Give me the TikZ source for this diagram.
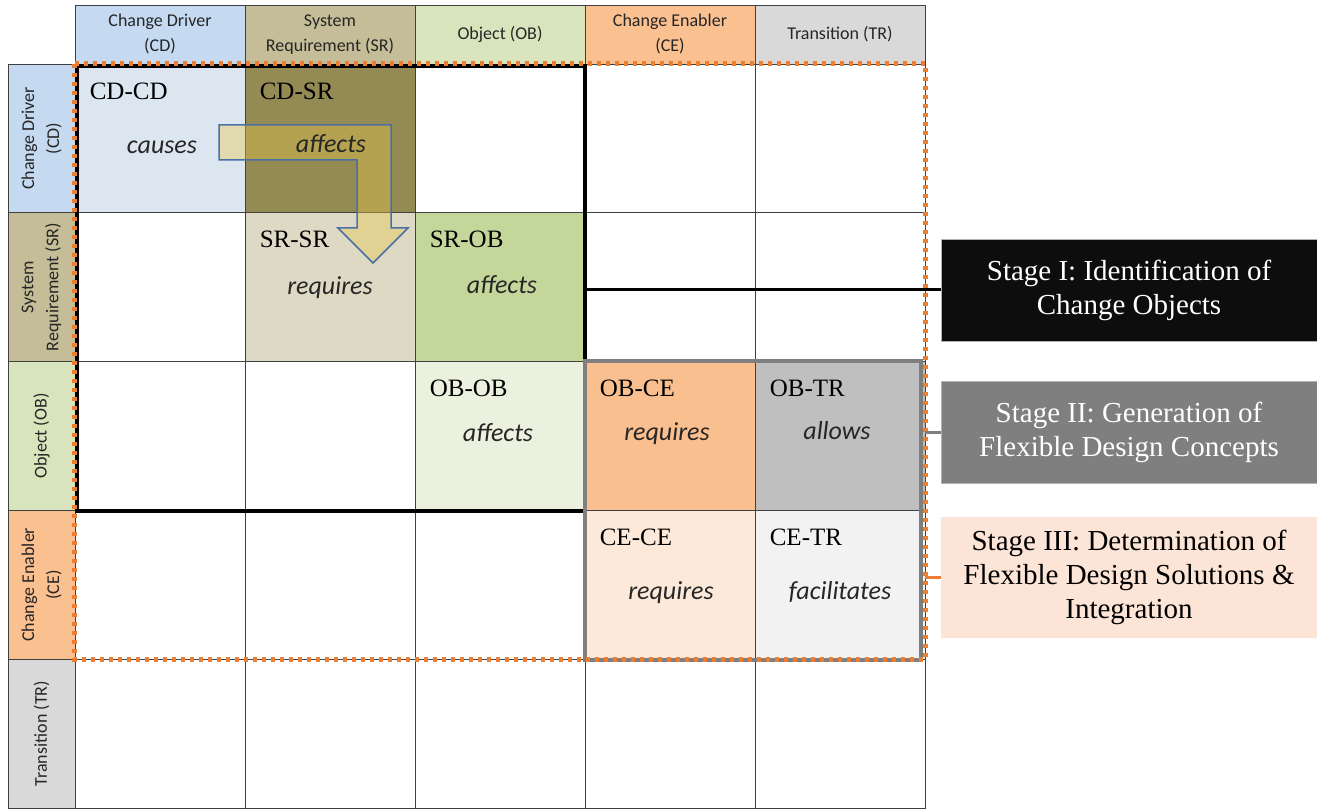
\documentclass[tikz,border=0pt]{standalone}
\usepackage{fontspec}
\setmainfont{Liberation Serif}
\newfontfamily\calibri{Carlito}
\definecolor{hdcd}{HTML}{C5D9F1}
\definecolor{hdsr}{HTML}{C4BD97}
\definecolor{hdob}{HTML}{D8E4BC}
\definecolor{hdce}{HTML}{FAC090}
\definecolor{hdtr}{HTML}{D9D9D9}
\definecolor{cdcdfill}{HTML}{DCE6F1}
\definecolor{cdsrfill}{HTML}{948A54}
\definecolor{srsrfill}{HTML}{DDD9C4}
\definecolor{srobfill}{HTML}{C4D79B}
\definecolor{obobfill}{HTML}{EBF1DE}
\definecolor{obcefill}{HTML}{FABF8F}
\definecolor{obtrfill}{HTML}{BFBFBF}
\definecolor{cecefill}{HTML}{FDE9D9}
\definecolor{cetrfill}{HTML}{F2F2F2}
\definecolor{stageone}{HTML}{0D0D0D}
\definecolor{stagetwo}{HTML}{7F7F7F}
\definecolor{stagethree}{HTML}{FCE4D6}
\definecolor{dotorange}{HTML}{ED7D31}
\definecolor{arrowblue}{HTML}{4A6FA5}
\definecolor{arrowfill}{HTML}{E8C84A}
\begin{document}
\begin{tikzpicture}[x=1pt,y=-1pt,
  cell/.style={draw=black!75, line width=0.8pt, minimum width=170pt, minimum height=148.8pt, inner sep=0pt},
  verbtext/.style={inner sep=0pt, font=\calibri\itshape\fontsize{26}{30}\selectfont, text=black!85},
  tophead/.style={draw=black!75, line width=0.8pt, minimum width=170pt, minimum height=59pt, inner sep=0pt,
    align=center, font=\calibri\fontsize{18}{25}\selectfont, text=black!85},
  sidehead/.style={tophead, rotate=90, minimum width=148.8pt, minimum height=67pt},
  tag/.style={anchor=west, inner sep=0pt, font=\fontsize{25}{30}\selectfont},
  stagebox/.style={minimum width=376pt, minimum height=102pt, inner sep=0pt, align=center,
    font=\fontsize{29}{34}\selectfont}]
  \useasboundingbox (0,0) rectangle (1317,810);

  % column headers
  \node[tophead, fill=hdcd] (h-cd) at (160,34.5) {Change Driver\\(CD)};
  \node[tophead, fill=hdsr] (h-sr) at (330,34.5) {System\\Requirement (SR)};
  \node[tophead, fill=hdob] (h-ob) at (500,34.5) {Object (OB)};
  \node[tophead, fill=hdce] (h-ce) at (670,34.5) {Change Enabler\\(CE)};
  \node[tophead, fill=hdtr] (h-tr) at (840,34.5) {Transition (TR)};

  % row headers
  \node[sidehead, fill=hdcd] (v-cd) at (41.5,138.4) {Change Driver\\(CD)};
  \node[sidehead, fill=hdsr] (v-sr) at (41.5,287.2) {System\\Requirement (SR)};
  \node[sidehead, fill=hdob] (v-ob) at (41.5,436) {Object (OB)};
  \node[sidehead, fill=hdce] (v-ce) at (41.5,584.8) {Change Enabler\\(CE)};
  \node[sidehead, fill=hdtr] (v-tr) at (41.5,733.6) {Transition (TR)};

  % row CD
  \node[cell, fill=cdcdfill] (cd-cd) at (160,138.4) {};
  \node[cell, fill=cdsrfill] (cd-sr) at (330,138.4) {};
  \node[cell] (cd-ob) at (500,138.4) {};
  \node[cell] (cd-ce) at (670,138.4) {};
  \node[cell] (cd-tr) at (840,138.4) {};
  % row SR
  \node[cell] (sr-cd) at (160,287.2) {};
  \node[cell, fill=srsrfill] (sr-sr) at (330,287.2) {};
  \node[cell, fill=srobfill] (sr-ob) at (500,287.2) {};
  \node[cell] (sr-ce) at (670,287.2) {};
  \node[cell] (sr-tr) at (840,287.2) {};
  % row OB
  \node[cell] (ob-cd) at (160,436) {};
  \node[cell] (ob-sr) at (330,436) {};
  \node[cell, fill=obobfill] (ob-ob) at (500,436) {};
  \node[cell, fill=obcefill] (ob-ce) at (670,436) {};
  \node[cell, fill=obtrfill] (ob-tr) at (840,436) {};
  % row CE
  \node[cell] (ce-cd) at (160,584.8) {};
  \node[cell] (ce-sr) at (330,584.8) {};
  \node[cell] (ce-ob) at (500,584.8) {};
  \node[cell, fill=cecefill] (ce-ce) at (670,584.8) {};
  \node[cell, fill=cetrfill] (ce-tr) at (840,584.8) {};
  % row TR
  \node[cell] (tr-cd) at (160,733.6) {};
  \node[cell] (tr-sr) at (330,733.6) {};
  \node[cell] (tr-ob) at (500,733.6) {};
  \node[cell] (tr-ce) at (670,733.6) {};
  \node[cell] (tr-tr) at (840,733.6) {};

  % pair tags
  \node[tag] (t-cdcd) at ([xshift=15pt,yshift=-28pt]cd-cd.north west) {CD-CD};
  \node[tag] (t-cdsr) at ([xshift=15pt,yshift=-28pt]cd-sr.north west) {CD-SR};
  \node[tag] (t-srsr) at ([xshift=15pt,yshift=-27pt]sr-sr.north west) {SR-SR};
  \node[tag] (t-srob) at ([xshift=15pt,yshift=-27pt]sr-ob.north west) {SR-OB};
  \node[tag] (t-obob) at ([xshift=15pt,yshift=-27pt]ob-ob.north west) {OB-OB};
  \node[tag] (t-obce) at ([xshift=15pt,yshift=-27pt]ob-ce.north west) {OB-CE};
  \node[tag] (t-obtr) at ([xshift=15pt,yshift=-27pt]ob-tr.north west) {OB-TR};
  \node[tag] (t-cece) at ([xshift=15pt,yshift=-27pt]ce-ce.north west) {CE-CE};
  \node[tag] (t-cetr) at ([xshift=15pt,yshift=-27pt]ce-tr.north west) {CE-TR};

  % bent arrow
  \draw[draw=arrowblue, line width=1.5pt, fill=arrowfill, fill opacity=0.4, line join=miter]
    (219,125) -- (391,125) -- (391,228) -- (408,228) -- (373,263) -- (338,228)
    -- (357,228) -- (357,160) -- (219,160) -- cycle;

  % relations
  \node[verbtext] (w-cdcd) at ([xshift=2pt,yshift=-9pt]cd-cd.center) {causes};
  \node[verbtext] (w-cdsr) at ([xshift=1pt,yshift=-5pt]cd-sr.center) {affects};
  \node[verbtext] (w-srsr) at (sr-sr.center) {requires};
  \node[verbtext] (w-srob) at ([xshift=2pt,yshift=3pt]sr-ob.center) {affects};
  \node[verbtext] (w-obob) at ([xshift=-2pt,yshift=3pt]ob-ob.center) {affects};
  \node[verbtext] (w-obce) at ([xshift=-3pt,yshift=2pt]ob-ce.center) {requires};
  \node[verbtext] (w-obtr) at ([xshift=-3pt,yshift=5pt]ob-tr.center) {allows};
  \node[verbtext] (w-cece) at ([xshift=1pt,yshift=-8pt]ce-ce.center) {requires};
  \node[verbtext] (w-cetr) at ([yshift=-7pt]ce-tr.center) {facilitates};

  % stage frames
  \draw[line width=4pt] ([xshift=2pt,yshift=-2pt]cd-cd.north west) rectangle (ob-ob.south east);
  \draw[line width=4pt, stagetwo] (ob-ce.north west) rectangle ([xshift=-4pt]ce-tr.south east);
  \draw[line width=5pt, dotorange, dash pattern=on 4pt off 5pt] (cd-cd.north west) rectangle (ce-tr.south east);

  % stages
  \node[stagebox, fill=stageone, draw=black!30, text=white] (stage1) at (1129,290) {Stage I: Identification of\\Change Objects};
  \node[stagebox, fill=stagetwo, draw=black!30, text=white] (stage2) at (1129,432) {Stage II: Generation of\\Flexible Design Concepts};
  \node[stagebox, fill=stagethree, minimum height=121pt] (stage3) at (1129,577.5) {Stage III: Determination of\\Flexible Design Solutions \&\\Integration};

  \draw[line width=3pt] (ob-ob.east |- stage1.west) -- (stage1.west);
  \draw[line width=3pt, stagetwo] (ce-tr.east |- stage2.west) -- (stage2.west);
  \draw[line width=3pt, dotorange] (ce-tr.east |- stage3.west) -- (stage3.west);
\end{tikzpicture}
\end{document}
